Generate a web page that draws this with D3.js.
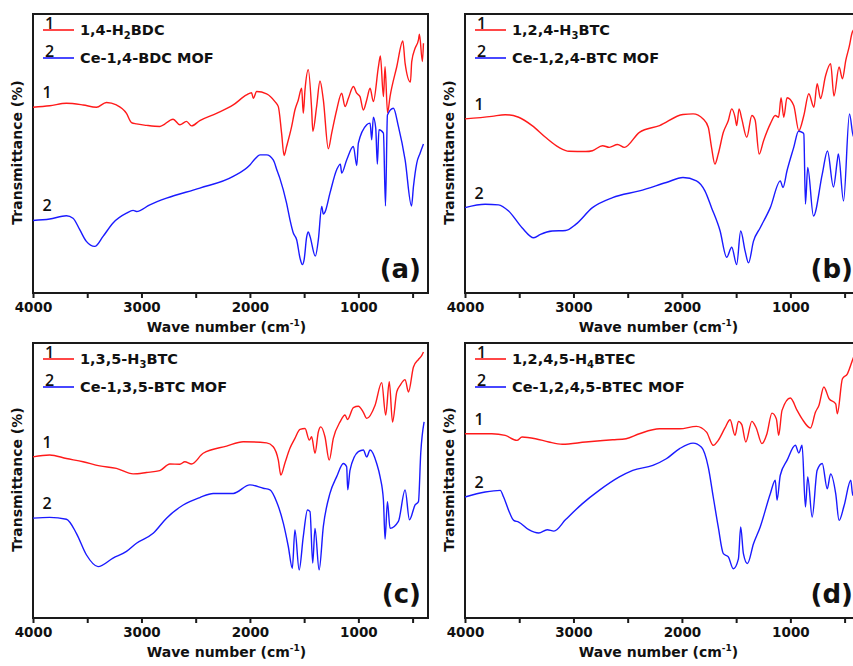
<!DOCTYPE html>
<html>
<head>
<meta charset="utf-8">
<script src="https://cdn.jsdelivr.net/npm/d3@7"></script>
<style>
  body { margin: 0; background: #fff; }
  svg { display: block; }
  text { font-family: "DejaVu Sans", sans-serif; }
</style>
</head>
<body>
<script>
const width = 853;
const height = 666;

// FTIR spectra, [wave number (cm-1), transmittance (a.u.)]
// (a) 1,4-BDC
const aLinker = [[4000,66.6],[3846,67.1],[3692,68.0],[3538,67.4],[3415,66.6],[3323,68.3],[3231,67.4],[3138,64.4],[3092,61.1],[3046,60.6],[2954,60.1],[2831,59.7],[2708,62.3],[2646,60.3],[2585,61.5],[2538,59.9],[2462,61.8],[2308,64.4],[2154,67.4],[2031,71.0],[1985,71.8],[1969,69.8],[1938,72.2],[1846,71.4],[1769,68.6],[1738,66.8],[1708,57.3],[1685,49.3],[1662,52.5],[1615,59.7],[1585,65.6],[1554,69.2],[1523,73.4],[1508,64.4],[1492,72.8],[1462,80.0],[1431,66.0],[1420,58.0],[1385,66.8],[1354,76.0],[1323,69.2],[1277,51.7],[1246,57.3],[1200,65.6],[1154,71.6],[1123,66.8],[1092,69.8],[1046,74.0],[1015,71.6],[985,70.4],[954,65.6],[923,69.2],[892,73.4],[862,68.6],[815,81.1],[797,85.0],[769,70.4],[754,81.1],[731,64.6],[708,70.4],[646,81.1],[590,90.3],[569,82.3],[520,75.6],[508,82.9],[477,87.7],[446,90.7],[437,92.8],[410,83.0],[400,89.5]];
const aMof = [[4000,26.0],[3846,26.5],[3692,27.7],[3631,26.8],[3569,22.7],[3508,18.5],[3431,16.7],[3354,20.3],[3262,25.1],[3138,28.6],[3077,29.6],[3046,29.2],[2923,31.6],[2769,34.0],[2462,37.6],[2154,41.8],[2000,45.9],[1954,48.0],[1908,49.5],[1846,49.5],[1785,47.7],[1748,43.7],[1723,41.0],[1662,32.2],[1631,26.3],[1600,21.5],[1569,19.1],[1538,12.5],[1517,10.2],[1500,12.0],[1477,20.0],[1462,21.9],[1446,20.3],[1397,13.2],[1369,19.1],[1338,31.0],[1323,28.3],[1308,29.0],[1262,35.8],[1200,44.2],[1166,46.2],[1154,43.0],[1108,47.7],[1046,52.5],[1015,45.7],[1000,53.7],[923,60.3],[892,60.9],[877,54.9],[862,63.0],[840,59.1],[825,46.2],[810,58.5],[769,57.3],[750,31.2],[732,63.8],[677,66.2],[631,59.7],[569,47.7],[510,31.2],[492,38.2],[462,46.5],[431,50.1],[400,53.4]];

// (b) 1,2,4-BTC
const bLinker = [[4000,62.4],[3753,63.3],[3629,63.9],[3505,63.0],[3381,60.0],[3258,55.8],[3134,52.2],[3041,50.8],[2887,50.7],[2825,51.0],[2732,52.8],[2670,52.2],[2593,53.2],[2531,52.2],[2392,57.6],[2206,60.0],[1990,64.0],[1897,64.2],[1804,62.4],[1757,59.4],[1727,52.2],[1696,46.2],[1665,49.8],[1618,57.6],[1572,61.8],[1541,66.0],[1510,63.0],[1495,60.0],[1473,66.0],[1448,62.4],[1402,55.8],[1355,63.6],[1325,62.0],[1288,49.8],[1247,54.6],[1185,60.6],[1139,63.6],[1108,63.0],[1086,70.0],[1061,63.0],[1031,70.0],[969,67.2],[922,58.2],[876,63.6],[830,71.4],[783,66.6],[753,75.0],[722,69.7],[676,77.8],[629,82.2],[598,70.6],[551,81.0],[520,76.8],[489,83.4],[458,88.2],[428,93.6],[400,94.8]];
const bMof = [[4000,30.6],[3814,31.8],[3691,31.6],[3598,29.4],[3474,23.4],[3366,19.8],[3304,21.0],[3196,22.2],[3072,22.4],[2979,24.6],[2825,30.6],[2639,34.2],[2392,36.6],[2144,39.6],[1990,41.4],[1866,40.2],[1788,36.6],[1727,30.6],[1649,22.4],[1587,12.8],[1541,16.4],[1495,10.2],[1458,22.2],[1417,15.0],[1386,10.8],[1340,18.6],[1278,23.4],[1185,30.6],[1093,40.2],[1068,37.8],[1031,43.8],[969,52.2],[925,58.0],[892,57.6],[876,57.0],[861,31.9],[840,45.0],[787,27.6],[706,42.6],[658,50.9],[603,38.0],[567,47.5],[557,49.8],[510,33.0],[455,64.2],[418,56.0],[400,57.0]];

// (c) 1,3,5-BTC
const cLinker = [[4000,58.6],[3846,59.3],[3692,58.0],[3538,56.8],[3385,55.3],[3231,54.4],[3077,52.4],[2954,52.9],[2831,53.6],[2738,56.0],[2646,55.9],[2600,56.8],[2538,56.0],[2431,59.9],[2215,62.5],[2062,64.1],[1846,63.7],[1785,62.3],[1738,57.4],[1715,52.0],[1677,56.4],[1631,61.7],[1585,65.3],[1538,68.6],[1492,68.9],[1452,64.7],[1431,65.9],[1400,59.9],[1369,67.7],[1346,69.5],[1308,65.9],[1269,57.4],[1231,65.3],[1169,71.3],[1123,73.8],[1100,72.2],[1046,76.5],[1000,77.0],[954,74.8],[923,72.6],[846,77.4],[785,85.6],[748,73.8],[715,85.9],[685,71.3],[646,82.2],[615,84.6],[569,86.7],[538,82.2],[492,91.3],[446,94.0],[415,95.5],[400,96.7]];
const cMof = [[4000,36.3],[3846,36.6],[3692,35.9],[3600,30.8],[3508,23.0],[3400,18.7],[3262,21.8],[3138,24.2],[3046,27.2],[2892,30.8],[2769,36.3],[2615,41.1],[2462,43.8],[2338,45.3],[2154,45.3],[2000,48.4],[1877,47.2],[1815,46.6],[1754,42.3],[1692,34.5],[1646,26.0],[1609,18.1],[1585,32.0],[1546,17.5],[1508,29.6],[1469,39.3],[1446,38.7],[1421,20.0],[1400,32.6],[1362,17.5],[1323,33.3],[1262,45.3],[1200,51.4],[1138,56.2],[1108,55.0],[1098,46.6],[1077,53.8],[1000,60.5],[954,61.1],[923,58.6],[892,61.1],[831,56.2],[800,51.4],[769,42.9],[754,28.7],[732,42.3],[708,32.6],[631,35.1],[569,46.6],[529,35.7],[477,41.1],[446,42.3],[425,59.9],[394,71.3]];

// (d) 1,2,4,5-BTEC
const dLinker = [[4000,67.0],[3753,67.0],[3629,66.4],[3521,64.6],[3474,65.8],[3350,65.2],[3227,64.0],[3103,63.2],[2887,64.0],[2639,64.8],[2515,65.2],[2392,67.0],[2206,68.8],[2021,68.8],[1866,69.7],[1773,67.6],[1711,62.8],[1665,64.6],[1603,69.1],[1556,72.1],[1510,66.4],[1479,71.5],[1448,70.3],[1411,64.0],[1355,71.5],[1315,69.1],[1262,63.4],[1216,67.0],[1170,74.5],[1129,72.4],[1108,66.4],[1077,75.5],[1000,80.0],[938,75.5],[892,72.4],[815,69.1],[768,74.9],[737,77.3],[691,84.0],[644,79.8],[582,77.9],[567,74.3],[520,87.0],[474,88.8],[428,93.7],[400,96.7]];
const dMof = [[4000,44.0],[3814,45.8],[3675,46.4],[3644,44.0],[3598,39.2],[3551,35.5],[3505,34.9],[3412,32.1],[3320,30.9],[3242,32.1],[3180,31.6],[3072,35.8],[2917,41.6],[2763,46.4],[2577,51.3],[2453,53.7],[2268,55.5],[2144,57.9],[2021,61.6],[1897,63.6],[1819,62.1],[1757,54.9],[1711,44.0],[1665,33.1],[1618,23.4],[1572,22.2],[1526,17.9],[1479,21.5],[1458,33.1],[1433,23.4],[1396,19.8],[1340,27.0],[1278,33.1],[1185,45.2],[1139,50.1],[1123,42.8],[1093,51.9],[1031,57.3],[954,62.8],[922,60.0],[892,62.8],[861,40.4],[840,51.3],[799,36.7],[753,53.7],[706,56.2],[660,47.0],[629,52.4],[582,45.2],[551,35.5],[505,40.8],[443,50.1],[425,44.6],[400,63.4]];

const linkerNames = [["1,4-H", "2", "BDC"], ["1,2,4-H", "3", "BTC"], ["1,3,5-H", "3", "BTC"], ["1,2,4,5-H", "4", "BTEC"]];
const mofNames = ["Ce-1,4-BDC MOF", "Ce-1,2,4-BTC MOF", "Ce-1,3,5-BTC MOF", "Ce-1,2,4,5-BTEC MOF"];
const panelTags = ["(a)", "(b)", "(c)", "(d)"];
const xMajor = [4000, 3000, 2000, 1000];
const xMinor = [3500, 2500, 1500, 500];

const red = "#ff1a1a", blue = "#1a1aff";

const svg = d3.select("body").append("svg")
    .attr("width", width)
    .attr("height", height)
    .style("background", "#fff");

const pw = 395;
const panels = [
  { left: 33,  top: 14,  h: 279, linker: aLinker, mof: aMof },
  { left: 465, top: 14,  h: 279, linker: bLinker, mof: bMof },
  { left: 33,  top: 343, h: 275, linker: cLinker, mof: cMof },
  { left: 465, top: 343, h: 275, linker: dLinker, mof: dMof }
];

panels.forEach((p, i) => {
  const g = svg.append("g").attr("transform", `translate(${p.left},${p.top})`);
  const x = d3.scaleLinear().domain([4000, 358]).range([0, pw]);
  const y = d3.scaleLinear().domain([0, 100]).range([p.h, 0]);

  // axes (bottom only, ticks out)
  const gx = g.append("g").attr("transform", `translate(0,${p.h})`)
      .call(d3.axisBottom(x).tickValues(xMajor).tickSize(5).tickPadding(4).tickFormat(d3.format("d")));
  gx.append("g")
      .call(d3.axisBottom(x).tickValues(xMinor).tickSize(5).tickFormat(""));
  gx.selectAll(".domain").remove();
  gx.selectAll("line").attr("stroke", "#1a1a1a").attr("stroke-width", 2);
  gx.selectAll("text")
      .attr("fill", "#111")
      .style("font-size", "13.5px")
      .style("font-weight", "bold");

  // frame
  g.append("rect")
      .attr("width", pw).attr("height", p.h)
      .attr("fill", "none")
      .attr("stroke", "#1a1a1a")
      .attr("stroke-width", 2);

  const line = d3.line()
      .x(d => x(d[0]))
      .y(d => y(d[1]))
      .curve(d3.curveMonotoneX);

  g.append("path").datum(p.linker)
      .attr("d", line).attr("fill", "none")
      .attr("stroke", red).attr("stroke-width", 1.4);
  g.append("path").datum(p.mof)
      .attr("d", line).attr("fill", "none")
      .attr("stroke", blue).attr("stroke-width", 1.4);

  // curve numbers near the left end of each trace
  [[p.linker, "1"], [p.mof, "2"]].forEach(([s, n]) => {
    g.append("text")
        .attr("x", 14).attr("y", y(s[0][1]) - 9)
        .attr("text-anchor", "middle")
        .style("font-family", "'Open Sans', sans-serif")
        .style("font-size", "16px")
        .style("font-weight", "600")
        .attr("fill", "#111")
        .text(n);
  });

  // legend
  const lg = g.append("g");
  [[red, 16, "1"], [blue, 44, "2"]].forEach(([c, ly, n]) => {
    lg.append("line").attr("x1", 10).attr("x2", 41).attr("y1", ly).attr("y2", ly)
        .attr("stroke", c).attr("stroke-width", 1.6);
    lg.append("text").attr("x", 12).attr("y", ly - 1)
        .style("font-family", "'Open Sans', sans-serif")
        .style("font-size", "16px")
        .style("font-weight", "600")
        .attr("fill", "#111")
        .text(n);
  });
  const t1 = lg.append("text").attr("x", 47).attr("y", 21)
      .style("font-size", "14.5px").style("font-weight", "bold").attr("fill", "#111");
  t1.append("tspan").text(linkerNames[i][0]);
  t1.append("tspan").attr("dy", 4).style("font-size", "10px").text(linkerNames[i][1]);
  t1.append("tspan").attr("dy", -4).text(linkerNames[i][2]);
  lg.append("text").attr("x", 47).attr("y", 49)
      .style("font-size", "14.5px").style("font-weight", "bold").attr("fill", "#111")
      .text(mofNames[i]);

  // panel tag
  g.append("text")
      .attr("x", pw - 7).attr("y", p.h - 15)
      .attr("text-anchor", "end")
      .style("font-size", "26px").style("font-weight", "bold")
      .attr("fill", "#111")
      .text(panelTags[i]);

  // axis titles
  const xt = g.append("text")
      .attr("x", pw / 2 - 4).attr("y", p.h + 39)
      .attr("text-anchor", "middle")
      .style("font-size", "14px").style("font-weight", "bold").attr("fill", "#111");
  xt.append("tspan").text("Wave number (cm");
  xt.append("tspan").attr("dy", -6).style("font-size", "9px").text("-1");
  xt.append("tspan").attr("dy", 6).text(")");

  g.append("text")
      .attr("transform", `translate(-11,${p.h / 2 - 1}) rotate(-90)`)
      .attr("text-anchor", "middle")
      .style("font-size", "14px").style("font-weight", "bold").attr("fill", "#111")
      .text("Transmittance (%)");
});
</script>
</body>
</html>
